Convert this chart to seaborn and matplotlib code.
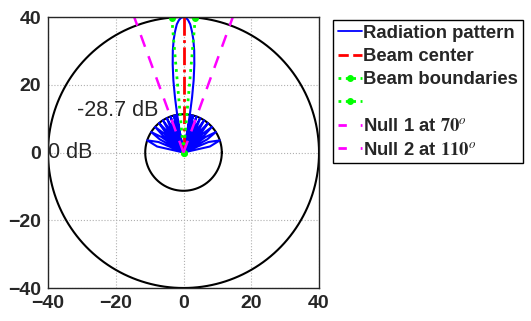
import numpy as np
import matplotlib
matplotlib.use("Agg")
import matplotlib.pyplot as plt
from matplotlib.lines import Line2D
import seaborn as sns

# pattern levels in dB, plotted as radius = dB + 40 (40 dB dynamic range)
floor_db = -40
sidelobe_db = -28.7
shoulder_db = -32.0

# sidelobes on the right half (deg from +x axis), mirrored for the left half
sidelobe_lo_deg = [12.8, 29.0, 39.5, 48.0, 55.5, 62.2, 68.5, 74.0, 78.0]
sidelobe_peak_deg = [18.5, 32.3, 42.0, 50.2, 57.4, 64.0, 70.1, 75.4, 78.8]
sidelobe_hi_deg = [22.8, 35.1, 44.3, 52.2, 59.2, 65.7, 71.7, 76.6, 79.6]

# main lobe: offset from broadside (deg) and level (dB)
main_offset_deg = [0, 1, 2, 3, 4, 5, 6, 7, 8, 8.8, 9.5, 10.1, 10.6]
main_db = [0, -0.2, -0.9, -2.1, -4.2, -6.6, -9.8, -13.8, -18.5, -23.5, -28.7, -34, -40]

beam_center_deg = 90
beam_bounds_deg = [85, 95]
null_deg = [70, 110]
circle_db = [0, -28.7]
circle_labels = ["0 dB", "-28.7 dB"]

# assemble the pattern trace from 0 to 180 deg
th, lv = [0], [floor_db]
for lo, pk, hi in zip(sidelobe_lo_deg, sidelobe_peak_deg, sidelobe_hi_deg):
    th += [lo, pk, hi, pk]
    lv += [shoulder_db, sidelobe_db, shoulder_db, floor_db]
for o, d in zip(main_offset_deg[::-1], main_db[::-1]):
    th.append(90 - o); lv.append(d)
for o, d in zip(main_offset_deg[1:], main_db[1:]):
    th.append(90 + o); lv.append(d)
for lo, pk, hi in zip(sidelobe_lo_deg[::-1], sidelobe_peak_deg[::-1], sidelobe_hi_deg[::-1]):
    th += [180 - pk, 180 - hi, 180 - pk, 180 - lo]
    lv += [floor_db, shoulder_db, sidelobe_db, shoulder_db]
th.append(180); lv.append(floor_db)
th = np.radians(th)
r = np.clip(np.array(lv) - floor_db, 0, None)

sns.set_style("white")
plt.rcParams["font.family"] = ["Liberation Sans", "DejaVu Sans"]
plt.rcParams["mathtext.fontset"] = "stix"

fig = plt.figure(figsize=(5.31, 3.21), dpi=100)
ax = fig.add_axes([0.0904, 0.1028, 0.5104, 0.8442])

# reference circles
phi = np.linspace(0, 2 * np.pi, 361)
for d in circle_db:
    rc = d - floor_db
    sns.lineplot(x=rc * np.cos(phi), y=rc * np.sin(phi), sort=False, estimator=None,
                 color="black", lw=1.5, ax=ax)

sns.lineplot(x=r * np.cos(th), y=r * np.sin(th), sort=False, estimator=None,
             color="#0000ff", lw=1.5, ax=ax)

R = -floor_db
sns.lineplot(x=[0, 0], y=[0, R], sort=False, estimator=None, color="red",
             lw=2, linestyle="-.", ax=ax)
for b in beam_bounds_deg:
    a = np.radians(b)
    ax.plot([0, R * np.cos(a)], [0, R * np.sin(a)], color="#00ff00", lw=2,
            linestyle=":", marker="o", ms=4)
for n in null_deg:
    a = np.radians(n)
    sns.lineplot(x=[0, 46 * np.cos(a)], y=[0, 46 * np.sin(a)], sort=False,
                 estimator=None, color="#ff00ff", lw=1.8, linestyle=(0, (5, 4)), ax=ax)

ax.text(-40, 0, circle_labels[0], fontsize=15.5, ha="left", va="center")
ax.text(-31.3, 12.5, circle_labels[1], fontsize=15.5, ha="left", va="center")

ax.set_xlim(-40, 40)
ax.set_ylim(-40, 40)
ax.set_xticks([-40, -20, 0, 20, 40])
ax.set_yticks([-40, -20, 0, 20, 40])
ax.tick_params(direction="in", length=3, labelsize=14, width=0.8, pad=5)
for lab in ax.get_xticklabels() + ax.get_yticklabels():
    lab.set_fontweight("bold")
    lab.set_color("#262626")
ax.grid(True, linestyle=":", color="#b0b0b0", lw=0.8)
for s in ax.spines.values():
    s.set_color("#262626")
    s.set_linewidth(1)

handles = [
    Line2D([], [], color="#0000ff", lw=1.3),
    Line2D([], [], color="red", lw=2, linestyle="--"),
    Line2D([], [], color="#00ff00", lw=2, linestyle=":", marker="o", ms=4),
    Line2D([], [], color="#00ff00", lw=2, linestyle=":", marker="o", ms=4),
    Line2D([], [], color="#ff00ff", lw=2, linestyle=(0, (3, 5))),
    Line2D([], [], color="#ff00ff", lw=2, linestyle=(0, (3, 5))),
]
labels = ["Radiation pattern", "Beam center", "Beam boundaries", " ",
          r"Null 1 at $\mathbf{70}^{\mathit{o}}$", r"Null 2 at $\mathbf{110}^{\mathit{o}}$"]
leg = ax.legend(handles, labels, loc="upper left", bbox_to_anchor=(0.627, 0.938),
                bbox_transform=fig.transFigure, borderaxespad=0, fancybox=False,
                edgecolor="black", framealpha=1, handlelength=1.3, handletextpad=0.1,
                labelspacing=0.35, borderpad=0.25,
                prop={"weight": "bold", "size": 13.3})
leg.get_frame().set_linewidth(1)

fig.savefig("out.png", dpi=100)
